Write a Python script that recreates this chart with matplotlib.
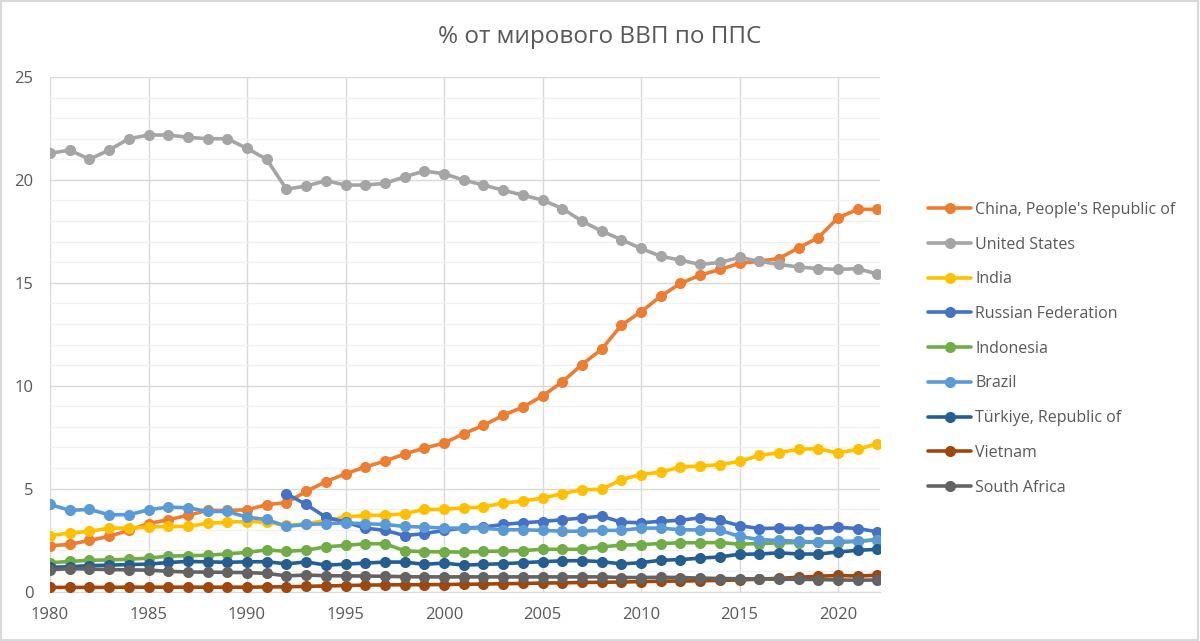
import matplotlib
matplotlib.use("Agg")
import matplotlib.pyplot as plt
from matplotlib.patches import Rectangle
from matplotlib.ticker import MultipleLocator

plt.rcParams['font.family'] = ['Open Sans', 'DejaVu Sans']

years = list(range(1980, 2023))

china = [2.22, 2.29, 2.48, 2.68, 2.97, 3.30, 3.49, 3.70, 3.94, 3.94,
         3.97, 4.22, 4.32, 4.86, 5.34, 5.72, 6.05, 6.34, 6.68, 6.97,
         7.21, 7.67, 8.07, 8.56, 8.96, 9.50, 10.18, 11.03, 11.77, 12.94,
         13.59, 14.35, 14.97, 15.37, 15.65, 15.94, 16.05, 16.18, 16.70, 17.20,
         18.16, 18.57, 18.57]
usa = [21.29, 21.45, 21.00, 21.45, 22.00, 22.18, 22.18, 22.07, 22.00, 22.00,
       21.53, 21.00, 19.55, 19.70, 19.96, 19.75, 19.75, 19.83, 20.15, 20.43,
       20.30, 19.99, 19.75, 19.50, 19.26, 19.02, 18.61, 18.00, 17.51, 17.10,
       16.67, 16.29, 16.10, 15.89, 15.99, 16.23, 16.05, 15.89, 15.77, 15.69,
       15.65, 15.69, 15.42]
india = [2.72, 2.84, 2.92, 3.08, 3.08, 3.13, 3.16, 3.16, 3.32, 3.37,
         3.40, 3.37, 3.21, 3.29, 3.45, 3.61, 3.70, 3.70, 3.78, 3.99,
         3.99, 4.07, 4.10, 4.30, 4.39, 4.54, 4.75, 4.95, 4.96, 5.43,
         5.68, 5.80, 6.05, 6.10, 6.16, 6.32, 6.61, 6.75, 6.91, 6.94,
         6.73, 6.91, 7.18]
russia = [None] * 12 + [4.75, 4.23, 3.61, 3.37, 3.08, 2.97, 2.72, 2.81,
         2.97, 3.08, 3.13, 3.26, 3.34, 3.40, 3.49, 3.57, 3.66, 3.37,
         3.34, 3.41, 3.46, 3.58, 3.46, 3.20, 3.06, 3.08, 3.06, 3.06,
         3.12, 3.06, 2.90]
indonesia = [1.40, 1.46, 1.52, 1.53, 1.57, 1.62, 1.72, 1.74, 1.76, 1.83,
             1.90, 2.02, 1.95, 2.01, 2.17, 2.24, 2.32, 2.32, 1.98, 1.93,
             1.93, 1.91, 1.95, 1.96, 1.99, 2.05, 2.05, 2.05, 2.17, 2.25,
             2.28, 2.33, 2.37, 2.37, 2.38, 2.30, 2.33, 2.36, 2.38, 2.40,
             2.38, 2.44, 2.52]
brazil = [4.23, 3.94, 3.99, 3.73, 3.73, 3.97, 4.10, 4.07, 3.89, 3.89,
          3.61, 3.50, 3.16, 3.26, 3.29, 3.34, 3.29, 3.26, 3.16, 3.13,
          3.08, 3.08, 3.08, 3.00, 3.00, 2.97, 2.93, 2.93, 2.97, 2.97,
          3.08, 3.08, 3.00, 2.99, 2.97, 2.68, 2.52, 2.48, 2.44, 2.40,
          2.44, 2.44, 2.52]
turkiye = [1.18, 1.20, 1.26, 1.28, 1.31, 1.33, 1.41, 1.46, 1.44, 1.42,
           1.44, 1.45, 1.34, 1.44, 1.28, 1.33, 1.38, 1.43, 1.43, 1.32,
           1.38, 1.28, 1.32, 1.35, 1.40, 1.45, 1.49, 1.50, 1.45, 1.34,
           1.40, 1.52, 1.55, 1.62, 1.68, 1.81, 1.82, 1.88, 1.82, 1.82,
           1.92, 2.00, 2.05]
vietnam = [0.20, 0.20, 0.20, 0.20, 0.21, 0.21, 0.21, 0.21, 0.21, 0.21,
           0.21, 0.22, 0.23, 0.25, 0.27, 0.29, 0.31, 0.32, 0.33, 0.33,
           0.34, 0.35, 0.36, 0.38, 0.39, 0.41, 0.42, 0.44, 0.45, 0.46,
           0.48, 0.50, 0.51, 0.52, 0.54, 0.56, 0.60, 0.64, 0.69, 0.74,
           0.78, 0.75, 0.79]
south_africa = [1.06, 1.11, 1.09, 1.07, 1.05, 1.04, 0.98, 0.95, 0.94, 0.93,
                0.92, 0.88, 0.76, 0.80, 0.77, 0.76, 0.75, 0.74, 0.72, 0.71,
                0.71, 0.71, 0.71, 0.71, 0.71, 0.71, 0.71, 0.71, 0.71, 0.68,
                0.68, 0.69, 0.68, 0.65, 0.63, 0.62, 0.61, 0.60, 0.59, 0.58,
                0.56, 0.55, 0.56]

series_names = ["China, People's Republic of", "United States", "India",
                "Russian Federation", "Indonesia", "Brazil",
                "Türkiye, Republic of", "Vietnam", "South Africa"]
series_values = [china, usa, india, russia, indonesia, brazil, turkiye,
                 vietnam, south_africa]
series_colors = ["#ED7D31", "#A5A5A5", "#FFC000", "#4472C4", "#70AD47",
                 "#5B9BD5", "#255E91", "#9E480E", "#636363"]

title = "% от мирового ВВП по ППС"

fig = plt.figure(figsize=(12, 6.41), dpi=100)
ax = fig.add_axes([50 / 1200, 1 - 591.5 / 641, 830 / 1200, (591.5 - 77) / 641])

for name, vals, col in zip(series_names, series_values, series_colors):
    xs = [y for y, v in zip(years, vals) if v is not None]
    ys = [v for v in vals if v is not None]
    ax.plot(xs, ys, color=col, lw=2.6, marker='o', markersize=8,
            markeredgewidth=0, label=name, solid_capstyle='round', zorder=3)

ax.set_xlim(1980, 2022.13)
ax.set_ylim(0, 25)
ax.xaxis.set_major_locator(MultipleLocator(5))
ax.yaxis.set_major_locator(MultipleLocator(5))
ax.yaxis.set_minor_locator(MultipleLocator(1))
ax.grid(which='major', axis='both', color='#D9D9D9', lw=1.0, zorder=0)
ax.grid(which='minor', axis='y', color='#F2F2F2', lw=1.0, zorder=0)
ax.set_axisbelow(True)
for s in ['top', 'right', 'left']:
    ax.spines[s].set_visible(False)
ax.spines['bottom'].set_color('#D9D9D9')
ax.tick_params(which='both', length=0, labelsize=12, colors='#595959')
ax.tick_params(axis='x', pad=11)
ax.tick_params(axis='y', pad=12)

fig.text(0.5, 1 - 37 / 641, title, ha='center', va='center', fontsize=17.5,
         color='#595959')

leg = fig.legend(loc='upper left', bbox_to_anchor=(928 / 1200, 1 - 202 / 641),
                 frameon=False, fontsize=11.5, labelcolor='#595959',
                 handlelength=2.7, handletextpad=0.25, labelspacing=1.17,
                 borderpad=0, borderaxespad=0)

fig.patches.append(Rectangle((0.001, 0.002), 0.997, 0.996, transform=fig.transFigure,
                             fill=False, edgecolor='#D9D9D9', lw=1.5))

fig.savefig("out.png", dpi=100, facecolor='white')
